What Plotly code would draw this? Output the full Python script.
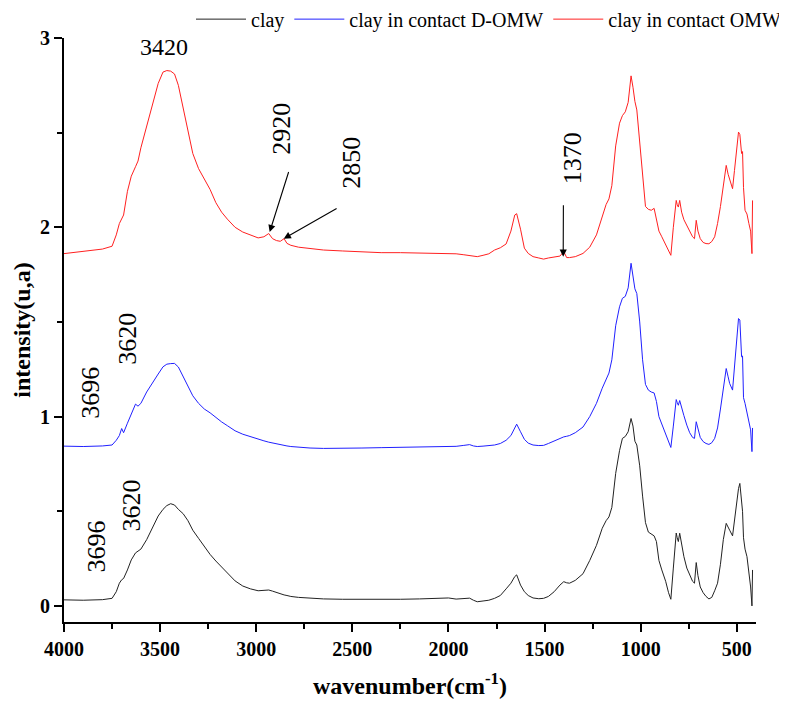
import plotly.graph_objects as go

# wavenumber grid (cm-1)
wavenumber = [4000, 3900, 3800, 3750, 3728, 3712, 3700, 3690, 3670, 3650, 3628, 3615, 3600, 3570, 3540,
              3510, 3485, 3465, 3445, 3425, 3405, 3380, 3355, 3330, 3300, 3270, 3240, 3210, 3180, 3150,
              3110, 3070, 3030, 2990, 2960, 2935, 2915, 2895, 2875, 2855, 2840, 2820, 2780, 2720, 2650,
              2550, 2450, 2350, 2250, 2150, 2050, 2000, 1960, 1920, 1890, 1870, 1850, 1820, 1790, 1760,
              1730, 1700, 1675, 1655, 1645, 1625, 1605, 1585, 1560, 1530, 1505, 1480, 1450, 1420, 1400,
              1385, 1370, 1340, 1300, 1265, 1230, 1200, 1180, 1165, 1150, 1130, 1110, 1095, 1080, 1065,
              1050, 1040, 1030, 1020, 1005, 990, 975, 960, 945, 930, 918, 905, 890, 870, 855,
              843, 830, 815, 810, 804, 797, 787, 775, 760, 745, 730, 720, 711, 702, 690,
              675, 660, 645, 630, 615, 600, 585, 570, 555, 545, 537, 522, 512, 503, 491,
              484, 475, 470, 465, 457, 447, 437, 428, 421, 418]

clay = [0.032, 0.030, 0.033, 0.040, 0.075, 0.120, 0.138, 0.145, 0.190, 0.243, 0.280, 0.290, 0.300, 0.350, 0.410,
        0.475, 0.510, 0.530, 0.540, 0.533, 0.510, 0.487, 0.450, 0.400, 0.357, 0.312, 0.272, 0.237, 0.205, 0.170,
        0.132, 0.105, 0.090, 0.080, 0.080, 0.084, 0.078, 0.070, 0.063, 0.058, 0.055, 0.050, 0.045, 0.040, 0.037,
        0.035, 0.034, 0.034, 0.035, 0.037, 0.040, 0.042, 0.036, 0.038, 0.041, 0.030, 0.022, 0.026, 0.030, 0.040,
        0.055, 0.090, 0.120, 0.155, 0.164, 0.110, 0.075, 0.055, 0.042, 0.038, 0.040, 0.050, 0.075, 0.110, 0.128,
        0.122, 0.120, 0.135, 0.170, 0.240, 0.320, 0.410, 0.450, 0.470, 0.520, 0.700, 0.820, 0.885, 0.895, 0.920,
        0.990, 0.950, 0.870, 0.850, 0.740, 0.580, 0.440, 0.390, 0.380, 0.370, 0.340, 0.240, 0.190, 0.130, 0.070,
        0.035, 0.200, 0.385, 0.360, 0.340, 0.384, 0.320, 0.260, 0.200, 0.160, 0.130, 0.120, 0.229, 0.160, 0.100,
        0.070, 0.050, 0.037, 0.045, 0.080, 0.120, 0.220, 0.350, 0.436, 0.420, 0.400, 0.370, 0.450, 0.540, 0.620,
        0.647, 0.560, 0.500, 0.360, 0.300, 0.260, 0.190, 0.100, 0.000, 0.190]

clay_domw = [0.844, 0.842, 0.845, 0.850, 0.875, 0.900, 0.937, 0.915, 0.965, 1.010, 1.066, 1.055, 1.070, 1.130, 1.180,
             1.225, 1.263, 1.277, 1.280, 1.281, 1.262, 1.210, 1.160, 1.110, 1.070, 1.040, 1.020, 0.995, 0.972, 0.952,
             0.925, 0.907, 0.893, 0.880, 0.872, 0.865, 0.860, 0.856, 0.852, 0.848, 0.845, 0.842, 0.838, 0.834, 0.832,
             0.832, 0.834, 0.836, 0.838, 0.840, 0.842, 0.846, 0.843, 0.848, 0.852, 0.845, 0.842, 0.844, 0.846, 0.850,
             0.858, 0.875, 0.900, 0.945, 0.960, 0.920, 0.880, 0.860, 0.850, 0.847, 0.848, 0.858, 0.872, 0.885, 0.893,
             0.896, 0.900, 0.915, 0.945, 1.000, 1.070, 1.150, 1.200, 1.230, 1.300, 1.480, 1.580, 1.625, 1.635, 1.680,
             1.810, 1.740, 1.675, 1.650, 1.500, 1.300, 1.170, 1.140, 1.130, 1.125, 1.080, 1.000, 0.960, 0.905, 0.865,
             0.837, 0.950, 1.090, 1.075, 1.060, 1.085, 1.045, 1.005, 0.955, 0.915, 0.890, 0.885, 0.973, 0.930, 0.890,
             0.868, 0.858, 0.853, 0.862, 0.885, 0.940, 1.040, 1.140, 1.254, 1.210, 1.175, 1.140, 1.250, 1.386, 1.518,
             1.510, 1.316, 1.320, 1.100, 1.070, 1.020, 0.990, 0.930, 0.815, 0.940]

clay_omw = [1.861, 1.872, 1.885, 1.900, 1.960, 2.020, 2.050, 2.065, 2.190, 2.270, 2.320, 2.350, 2.420, 2.535, 2.660,
            2.760, 2.820, 2.828, 2.825, 2.810, 2.750, 2.630, 2.500, 2.390, 2.310, 2.255, 2.200, 2.130, 2.080, 2.043,
            2.000, 1.975, 1.958, 1.944, 1.950, 1.967, 1.940, 1.930, 1.926, 1.940, 1.915, 1.905, 1.895, 1.888, 1.880,
            1.875, 1.870, 1.866, 1.866, 1.865, 1.864, 1.862, 1.860, 1.855, 1.852, 1.850, 1.845, 1.852, 1.860, 1.880,
            1.892, 1.912, 1.980, 2.065, 2.072, 1.990, 1.890, 1.862, 1.845, 1.838, 1.832, 1.838, 1.842, 1.848, 1.872,
            1.840, 1.840, 1.845, 1.862, 1.895, 1.960, 2.050, 2.120, 2.150, 2.220, 2.430, 2.550, 2.590, 2.610, 2.660,
            2.800, 2.740, 2.665, 2.620, 2.450, 2.240, 2.110, 2.095, 2.090, 2.100, 2.040, 1.980, 1.950, 1.910, 1.875,
            1.852, 2.000, 2.142, 2.120, 2.107, 2.142, 2.080, 2.040, 2.010, 1.980, 1.950, 1.940, 2.037, 1.980, 1.940,
            1.920, 1.914, 1.913, 1.925, 1.950, 2.020, 2.110, 2.220, 2.327, 2.280, 2.250, 2.204, 2.300, 2.397, 2.503,
            2.490, 2.390, 2.400, 2.210, 2.090, 2.070, 2.020, 1.980, 1.861, 2.142]

series_names = ["clay", "clay in contact D-OMW", "clay in contact OMW"]
series_colors = ["#222222", "#2020ff", "#ff2020"]

x_ticks = [4000, 3500, 3000, 2500, 2000, 1500, 1000, 500]
y_ticks = [0, 1, 2, 3]

# peak labels: (text, wavenumber, intensity, angle, size)
peak_labels = [("3420", 3482, 2.955, 0, 24),
               ("2920", 2867, 2.52, -90, 26),
               ("2850", 2503, 2.34, -90, 26),
               ("1370", 1357, 2.365, -90, 26),
               ("3696", 3862, 1.124, -90, 26),
               ("3620", 3669, 1.409, -90, 26),
               ("3696", 3831, 0.317, -90, 26),
               ("3620", 3648, 0.528, -90, 26)]
# arrows: (tail wn, tail y, tip wn, tip y)
arrows = [(2829, 2.30, 2930, 1.975),
          (2574, 2.104, 2857, 1.94),
          (1402, 2.125, 1403, 1.845)]

FONT = "Liberation Serif, Times New Roman, serif"

fig = go.Figure()
for name, ys, col in zip(series_names, [clay, clay_domw, clay_omw], series_colors):
    fig.add_trace(go.Scatter(x=wavenumber, y=ys, mode="lines", name=name,
                             line=dict(color=col, width=1)))

for txt, xv, yv, ang, sz in peak_labels:
    fig.add_annotation(x=xv, y=yv, xref="x", yref="y", text=txt, showarrow=False,
                       textangle=ang, font=dict(family=FONT, size=sz, color="black"))
for tx, ty, hx, hy in arrows:
    fig.add_annotation(x=hx, y=hy, ax=tx, ay=ty, xref="x", yref="y", axref="x", ayref="y",
                       text="", showarrow=True, arrowhead=2, arrowsize=1.3, arrowwidth=1.1,
                       arrowcolor="black", standoff=0)

fig.update_layout(
    width=779, height=696,
    margin=dict(l=56, r=31, t=30, b=82, autoexpand=False),
    paper_bgcolor="white", plot_bgcolor="white",
    font=dict(family=FONT, color="black"),
    showlegend=True,
    legend=dict(orientation="h", x=1.0, xref="container", xanchor="right",
                y=0.984, yref="container", yanchor="middle",
                font=dict(family=FONT, size=20, color="black"), itemwidth=50,
                bgcolor="rgba(0,0,0,0)"),
    xaxis=dict(range=[4000, 400], tickvals=x_ticks, ticktext=[str(v) for v in x_ticks],
               automargin=False,
               showgrid=False, zeroline=False, showline=True, linecolor="black", linewidth=2,
               ticks="outside", ticklen=8, tickwidth=2, tickcolor="black",
               minor=dict(dtick=250, tick0=0, ticks="outside", ticklen=5, tickwidth=2, tickcolor="black", showgrid=False),
               tickfont=dict(family=FONT, size=20, color="black", weight="bold"),
               title=dict(text="wavenumber(cm<sup>-1</sup>)", standoff=18,
                          font=dict(family=FONT, size=24, color="black", weight="bold"))),
    yaxis=dict(range=[-0.085, 3.0], tickvals=y_ticks, ticktext=[str(v) for v in y_ticks],
               automargin=False,
               showgrid=False, zeroline=False, showline=True, linecolor="black", linewidth=2,
               ticks="outside", ticklen=8, tickwidth=2, tickcolor="black",
               minor=dict(dtick=0.5, tick0=0, ticks="outside", ticklen=5, tickwidth=2, tickcolor="black", showgrid=False),
               tickfont=dict(family=FONT, size=20, color="black", weight="bold"),
               title=dict(text="intensity(u,a)", standoff=3,
                          font=dict(family=FONT, size=24, color="black", weight="bold"))),
)

fig.write_html("out.html")
